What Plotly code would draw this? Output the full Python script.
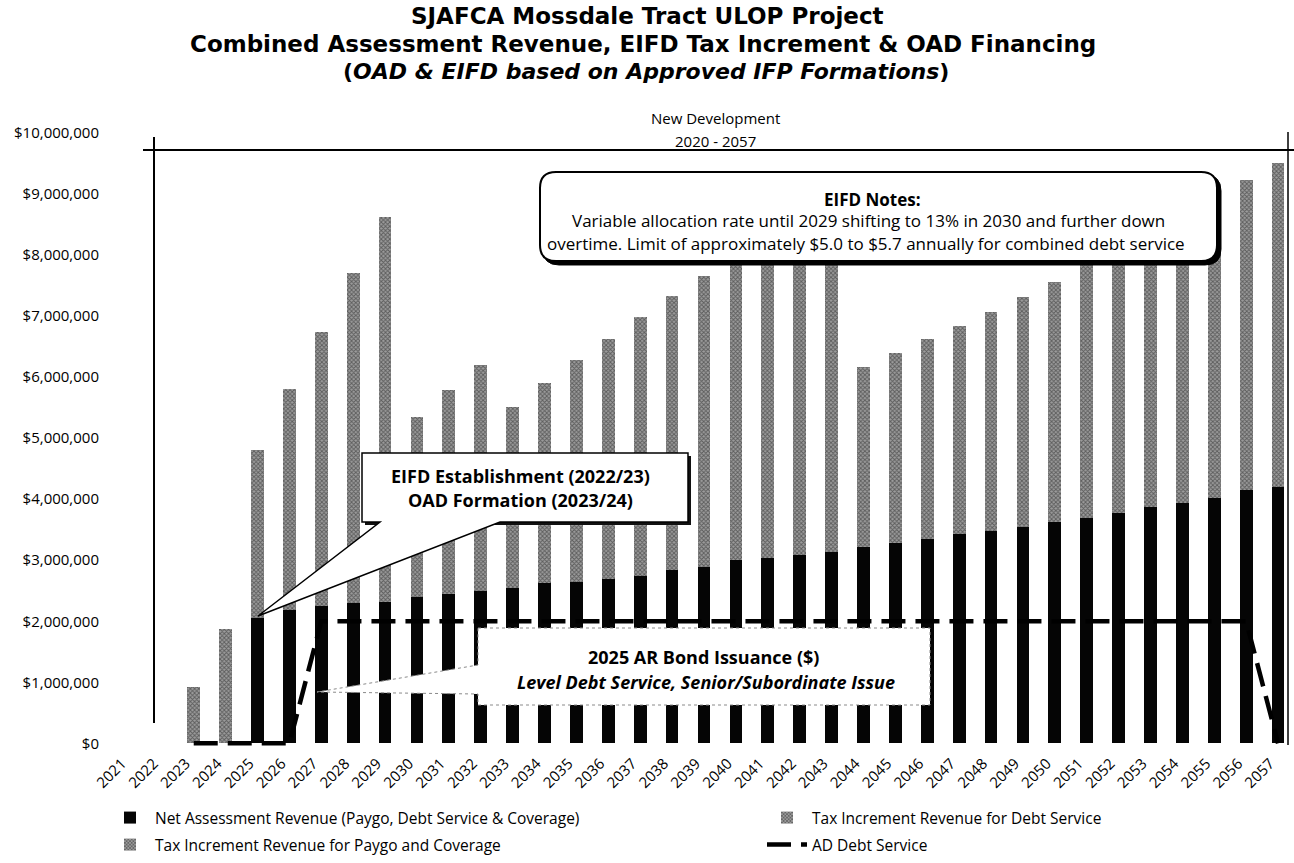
import plotly.graph_objects as go

# ---------------- data ----------------
years = [2021, 2022, 2023, 2024, 2025, 2026, 2027, 2028, 2029, 2030,
         2031, 2032, 2033, 2034, 2035, 2036, 2037, 2038, 2039, 2040,
         2041, 2042, 2043, 2044, 2045, 2046, 2047, 2048, 2049, 2050,
         2051, 2052, 2053, 2054, 2055, 2056, 2057]
year_labels = [str(y) for y in years]

# $ millions
net_assessment_m = [0, 0, 0, 0, 2.05, 2.18, 2.25, 2.30, 2.32, 2.40,
                    2.45, 2.50, 2.55, 2.62, 2.64, 2.70, 2.75, 2.84, 2.89, 3.00,
                    3.03, 3.08, 3.13, 3.21, 3.28, 3.34, 3.43, 3.48, 3.54, 3.62,
                    3.70, 3.77, 3.87, 3.93, 4.02, 4.15, 4.20]
ti_debt_service_m = [0, 0, 0, 0, 2.75, 2.95, 2.95, 2.95, 2.95, 2.94,
                     2.95, 2.95, 2.96, 2.95, 2.95, 2.95, 2.95, 2.95, 2.95, 2.95,
                     2.95, 2.95, 2.95, 2.95, 2.95, 2.95, 2.95, 2.95, 2.95, 2.95,
                     2.95, 2.95, 2.95, 2.95, 2.95, 2.95, 2.95]
ti_paygo_m = [0, 0, 0.92, 1.87, 0, 0.67, 1.54, 2.45, 3.35, 0,
              0.39, 0.75, 0, 0.33, 0.69, 0.97, 1.28, 1.54, 1.82, 2.00,
              2.27, 2.52, 2.77, 0, 0.16, 0.33, 0.46, 0.64, 0.82, 0.99,
              1.20, 1.40, 1.58, 1.79, 1.98, 2.13, 2.36]
ad_debt_service_m = [None, None, 0, 0, 0, 0, 2.0, 2.0, 2.0, 2.0,
                     2.0, 2.0, 2.0, 2.0, 2.0, 2.0, 2.0, 2.0, 2.0, 2.0,
                     2.0, 2.0, 2.0, 2.0, 2.0, 2.0, 2.0, 2.0, 2.0, 2.0,
                     2.0, 2.0, 2.0, 2.0, 2.0, 2.0, 0]

def dollars(vals):
    return [None if v is None else v * 1_000_000 for v in vals]

FONT = "Open Sans"
TITLE_FONT = "DejaVu Sans"
W, H = 1294, 863
L, R, T, B = 114, 1294, 133, 747
Y0 = -60_000
Y1 = 10_000_000

def fx(p):
    return (p - L) / (R - L)

def fy(p):
    return (B - p) / (B - T)

def path_from(points):
    s = "M %.5f %.5f" % (fx(points[0][0]), fy(points[0][1]))
    for (x, y) in points[1:]:
        s += " L %.5f %.5f" % (fx(x), fy(y))
    return s + " Z"

def rounded_rect(x0, y0, x1, y1, r):
    p = lambda x, y: "%.5f %.5f" % (fx(x), fy(y))
    return ("M " + p(x0 + r, y0) + " L " + p(x1 - r, y0) + " Q " + p(x1, y0) + " " + p(x1, y0 + r) +
            " L " + p(x1, y1 - r) + " Q " + p(x1, y1) + " " + p(x1 - r, y1) +
            " L " + p(x0 + r, y1) + " Q " + p(x0, y1) + " " + p(x0, y1 - r) +
            " L " + p(x0, y0 + r) + " Q " + p(x0, y0) + " " + p(x0 + r, y0) + " Z")

gray_pattern = dict(shape="x", fgcolor="#1a1a1a", bgcolor="#9c9c9c", size=3, solidity=0.5)

fig = go.Figure()
fig.add_trace(go.Bar(
    x=years, y=dollars(net_assessment_m), width=0.4,
    name="Net Assessment Revenue (Paygo, Debt Service & Coverage)",
    marker=dict(color="#050505", line=dict(width=0)), legend="legend"))
fig.add_trace(go.Bar(
    x=years, y=dollars(ti_debt_service_m), width=0.4,
    name="Tax Increment Revenue for Debt Service",
    marker=dict(color="#9c9c9c", pattern=gray_pattern, line=dict(width=0)), legend="legend2"))
fig.add_trace(go.Bar(
    x=years, y=dollars(ti_paygo_m), width=0.4,
    name="Tax Increment Revenue for Paygo and Coverage",
    marker=dict(color="#9c9c9c", pattern=gray_pattern, line=dict(width=0)), legend="legend3"))
fig.add_trace(go.Scatter(
    x=years, y=dollars(ad_debt_service_m), mode="lines",
    name="AD Debt Service",
    line=dict(color="#000000", width=4.5, dash="24px,10px"), legend="legend4"))

shapes = []
# axis-like frame lines
shapes.append(dict(type="line", xref="paper", yref="paper", x0=fx(154), x1=fx(154), y0=fy(137), y1=fy(723),
                   line=dict(color="#000", width=2), layer="above"))
shapes.append(dict(type="line", xref="paper", yref="paper", x0=fx(143), x1=fx(1294), y0=fy(150), y1=fy(150),
                   line=dict(color="#000", width=2), layer="above"))
shapes.append(dict(type="line", xref="paper", yref="paper", x0=fx(1288), x1=fx(1288), y0=fy(132), y1=fy(745),
                   line=dict(color="#000", width=1.5), layer="above"))

# EIFD notes box (rounded, with shadow)
shapes.append(dict(type="path", xref="paper", yref="paper", path=rounded_rect(543, 175, 1221, 265, 16),
                   fillcolor="#000", line=dict(color="#000", width=1), layer="above"))
shapes.append(dict(type="path", xref="paper", yref="paper", path=rounded_rect(540, 172, 1217, 261, 16),
                   fillcolor="#fff", line=dict(color="#000", width=2), layer="above"))

# EIFD establishment callout (shadow + bubble)
shapes.append(dict(type="rect", xref="paper", yref="paper", x0=fx(365), x1=fx(691), y0=fy(456), y1=fy(525),
                   fillcolor="#111", line=dict(width=0), layer="above"))
shapes.append(dict(type="path", xref="paper", yref="paper",
                   path=path_from([(362, 453), (688, 453), (688, 522), (500, 522), (258, 616), (380, 522), (362, 522)]),
                   fillcolor="#fff", line=dict(color="#000", width=1.5), layer="above"))

# 2025 AR bond callout
shapes.append(dict(type="path", xref="paper", yref="paper",
                   path=path_from([(478, 628), (930, 628), (930, 705), (478, 705), (478, 694), (317, 692), (478, 665)]),
                   fillcolor="#fff", line=dict(color="#8a8a8a", width=1, dash="dot"), layer="above"))

ann = []
def txt(x, y, text, size, family=FONT, **kw):
    d = dict(xref="paper", yref="paper", x=fx(x), y=fy(y), text=text, showarrow=False,
             xanchor="center", yanchor="middle", font=dict(family=family, size=size, color="#000"))
    d.update(kw)
    ann.append(d)

txt(647, 16, "<b>SJAFCA Mossdale Tract ULOP Project</b>", 23, TITLE_FONT)
txt(643, 44, "<b>Combined Assessment Revenue, EIFD Tax Increment &amp; OAD Financing</b>", 23, TITLE_FONT)
txt(646, 72, "<b>(<i>OAD &amp; EIFD based on Approved IFP Formations</i>)</b>", 22, TITLE_FONT)
txt(715, 118, "New Development", 15)
txt(715, 141, "2020 - 2057", 15)
txt(872, 199, "<b>EIFD Notes:</b>", 17)
txt(868, 221, "Variable allocation rate until 2029 shifting to 13% in 2030 and further down", 17)
txt(866, 243, "overtime. Limit of approximately $5.0 to $5.7 annually for combined debt service", 17)
txt(520, 476, "<b>EIFD Establishment (2022/23)</b>", 18)
txt(520, 500, "<b>OAD Formation (2023/24)</b>", 18)
txt(703, 657, "<b>2025 AR Bond Issuance ($)</b>", 18)
txt(706, 682, "<b><i>Level Debt Service, Senior/Subordinate Issue</i></b>", 18)

legend_common = dict(orientation="h", xanchor="left", yanchor="middle",
                     font=dict(family=FONT, size=15.5, color="#000"),
                     bgcolor="rgba(0,0,0,0)", itemwidth=40)

fig.update_layout(
    width=W, height=H,
    margin=dict(l=L, r=W - R, t=T, b=H - B, autoexpand=False),
    paper_bgcolor="#fff", plot_bgcolor="#fff",
    font=dict(family=FONT, color="#000"),
    barmode="stack", bargap=0.6,
    showlegend=True,
    legend=dict(x=fx(105), y=fy(818), **legend_common),
    legend2=dict(x=fx(762), y=fy(818), **legend_common),
    legend3=dict(x=fx(105), y=fy(845), **legend_common),
    legend4=dict(x=fx(762), y=fy(845), **legend_common),
    shapes=shapes, annotations=ann,
    xaxis=dict(range=[2020.5, 2057.5], tickmode="array", tickvals=years, ticktext=year_labels,
               tickangle=-45, tickfont=dict(family=FONT, size=15), showgrid=False, zeroline=False,
               showline=False, ticks="", automargin=False, ticklabelshift=-8, ticklabelstandoff=4),
    yaxis=dict(range=[Y0, Y1], dtick=1_000_000, tick0=0, tickprefix="$", tickformat=",d",
               tickfont=dict(family=FONT, size=15), showgrid=False, zeroline=False, showline=False,
               ticks="", ticklabelstandoff=14, automargin=False),
)

fig.write_html("out.html")
